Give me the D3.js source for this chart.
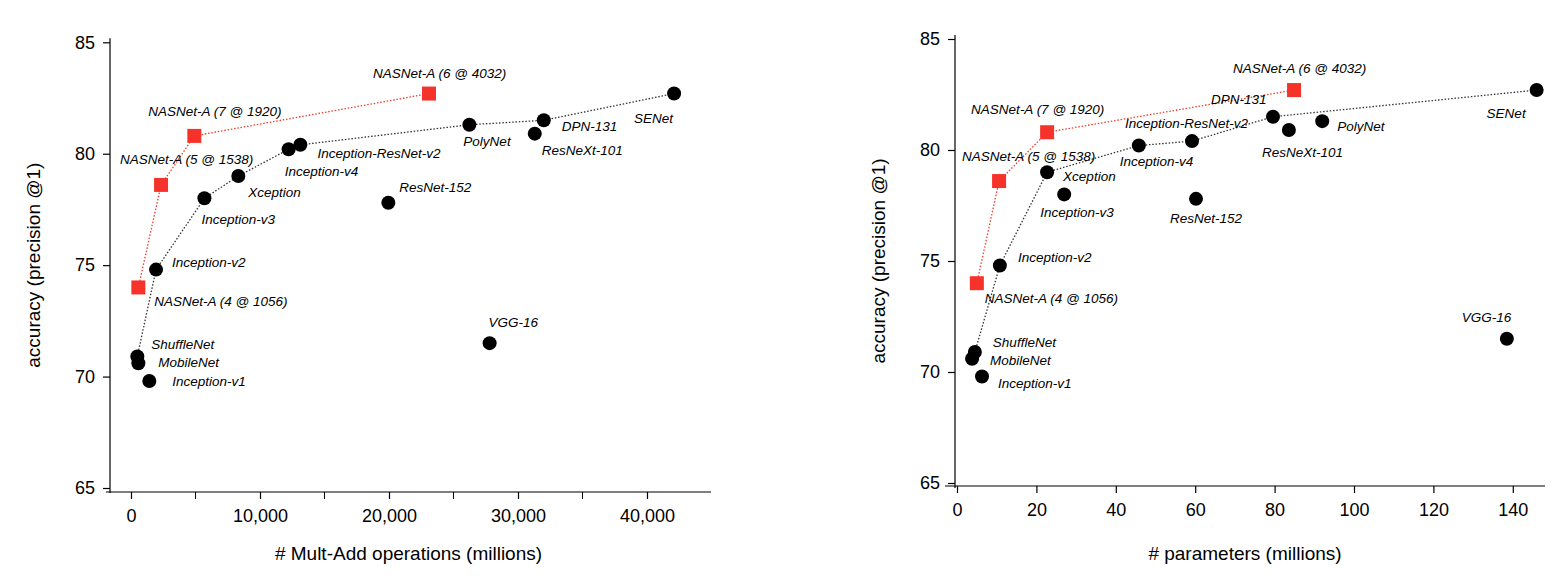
<!DOCTYPE html>
<html><head><meta charset="utf-8">
<script src="https://cdn.jsdelivr.net/npm/d3@7"></script>
<style>body{margin:0;background:#fff}text{font-family:"Liberation Sans",Arial,sans-serif}</style>
</head><body><svg id="c" width="1568" height="576"></svg>
<script>
const names = ["ShuffleNet","MobileNet","Inception-v1","Inception-v2","Inception-v3","Xception","Inception-v4","Inception-ResNet-v2","ResNet-152","VGG-16","PolyNet","DPN-131","ResNeXt-101","SENet"];
const accuracy = [70.9,70.6,69.8,74.8,78.0,79.0,80.2,80.4,77.8,71.5,81.3,81.5,80.9,82.7];
const multAdds = [490,570,1420,1940,5690,8320,12220,13130,19950,27800,26230,32000,31300,42100];
const params = [4.5,3.8,6.3,10.8,27,22.7,45.8,59.2,60.2,138.5,92,79.6,83.6,146];
const nasNames = ["NASNet-A (4 @ 1056)","NASNet-A (5 @ 1538)","NASNet-A (7 @ 1920)","NASNet-A (6 @ 4032)"];
const nasAcc = [74.0,78.6,80.8,82.7];
const nasMult = [570,2330,4910,23100];
const nasParams = [5.0,10.6,22.7,84.9];
const frontierMult = ["ShuffleNet","Inception-v2","Inception-v3","Xception","Inception-v4","Inception-ResNet-v2","PolyNet","DPN-131","SENet"];
const frontierParams = ["ShuffleNet","Inception-v2","Xception","Inception-v4","Inception-ResNet-v2","DPN-131","SENet"];
const yTicks = [65,70,75,80,85];
const multTicks = [0,10000,20000,30000,40000];
const paramTicks = [0,20,40,60,80,100,120,140];

// label offsets (layout only)
const offL = {"ShuffleNet":[14,-12],"MobileNet":[20,-1],"Inception-v1":[23,0],"Inception-v2":[16,-7],"Inception-v3":[-3,21],"Xception":[10,16],"Inception-v4":[-4,22],"Inception-ResNet-v2":[17,8],"ResNet-152":[11,-15],"VGG-16":[-1,-21],"PolyNet":[-6,17],"DPN-131":[18,6],"ResNeXt-101":[7,17],"SENet":[-40,25],
 "NASNet-A (4 @ 1056)":[16,14],"NASNet-A (5 @ 1538)":[-41,-26],"NASNet-A (7 @ 1920)":[-46,-25],"NASNet-A (6 @ 4032)":[-56,-20]};
const offR = {"ShuffleNet":[18,-10],"MobileNet":[18,2],"Inception-v1":[16,7],"Inception-v2":[18,-8],"Inception-v3":[-24,18],"Xception":[16,4],"Inception-v4":[-19,16],"Inception-ResNet-v2":[-67,-18],"ResNet-152":[-26,19],"VGG-16":[-45,-21],"PolyNet":[15,5],"DPN-131":[-62,-17],"ResNeXt-101":[-27,22],"SENet":[-50,23],
 "NASNet-A (4 @ 1056)":[8,15],"NASNet-A (5 @ 1538)":[-37,-25],"NASNet-A (7 @ 1920)":[-76,-23],"NASNet-A (6 @ 4032)":[-61,-22]};

const svg = d3.select("#c");
function panel(cfg){
  const g = svg.append("g");
  const x = d3.scaleLinear().domain(cfg.xdom).range(cfg.xr);
  const y = d3.scaleLinear().domain([65,85]).range(cfg.yr);
  const yAx = g.append("g").attr("transform",`translate(${cfg.yaxX},0)`).call(d3.axisLeft(y).tickValues(yTicks).tickSize(7).tickPadding(8));
  yAx.select(".domain").attr("d",`M0,${cfg.yr[1]-4}V${cfg.yr[0]+5}`);
  const xAx = g.append("g").attr("transform",`translate(0,${cfg.xaxY})`).call(d3.axisBottom(x).tickValues(cfg.ticks).tickSize(7).tickPadding(10));
  xAx.select(".domain").attr("d",`M${cfg.xline[0]},0H${cfg.xline[1]}`);
  if(cfg.minor){ xAx.selectAll(".minor").data(cfg.minor).enter().append("line").attr("x1",d=>x(d)).attr("x2",d=>x(d)).attr("y2",7).attr("stroke","#000"); }
  g.selectAll(".tick text").attr("font-size",18).attr("fill","#000");
  g.selectAll(".domain,.tick line").attr("stroke","#000").attr("stroke-width",1.2);
  g.append("text").attr("x",(cfg.xline[0]+cfg.xline[1])/2).attr("y",560).attr("text-anchor","middle").attr("font-size",19).text(cfg.xtitle);
  g.append("text").attr("transform",`translate(${cfg.yaxX-70},${(cfg.yr[0]+cfg.yr[1])/2}) rotate(-90)`).attr("text-anchor","middle").attr("font-size",19).text("accuracy (precision @1)");
  const idx = n=>names.indexOf(n);
  const line = d3.line().x(d=>d[0]).y(d=>d[1]);
  g.append("path").attr("d",line(cfg.frontier.map(n=>[x(cfg.xs[idx(n)]),y(accuracy[idx(n)])]))).attr("fill","none").attr("stroke","#333").attr("stroke-width",1.3).attr("stroke-dasharray","1.5,1.8");
  g.append("path").attr("d",line(nasAcc.map((a,i)=>[x(cfg.nx[i]),y(a)]))).attr("fill","none").attr("stroke","#f23a2a").attr("stroke-width",1.3).attr("stroke-dasharray","1.5,1.8");
  g.selectAll(".dot").data(names).enter().append("circle").attr("cx",(d,i)=>x(cfg.xs[i])).attr("cy",(d,i)=>y(accuracy[i])).attr("r",7).attr("fill","#000");
  g.selectAll(".sq").data(nasNames).enter().append("rect").attr("x",(d,i)=>x(cfg.nx[i])-7).attr("y",(d,i)=>y(nasAcc[i])-7).attr("width",14).attr("height",14).attr("fill","#f5332a");
  const lab = (n,px,py)=>g.append("text").attr("x",px+cfg.off[n][0]).attr("y",py+cfg.off[n][1]).attr("dy","0.35em").attr("font-size",13.5).attr("font-style","italic").text(n);
  names.forEach((n,i)=>lab(n,x(cfg.xs[i]),y(accuracy[i])));
  nasNames.forEach((n,i)=>lab(n,x(cfg.nx[i]),y(nasAcc[i])));
}
panel({xdom:[0,40000],xr:[131,647],yr:[488,42.3],yaxX:110,xaxY:492,ticks:multTicks,minor:[5000,15000,25000,35000],xline:[106,711],xtitle:"# Mult-Add operations (millions)",xs:multAdds,nx:nasMult,frontier:frontierMult,off:offL});
panel({xdom:[0,140],xr:[957,1512.8],yr:[483,39],yaxX:955,xaxY:486,ticks:paramTicks,xline:[945,1545],xtitle:"# parameters (millions)",xs:params,nx:nasParams,frontier:frontierParams,off:offR});
</script></body></html>
